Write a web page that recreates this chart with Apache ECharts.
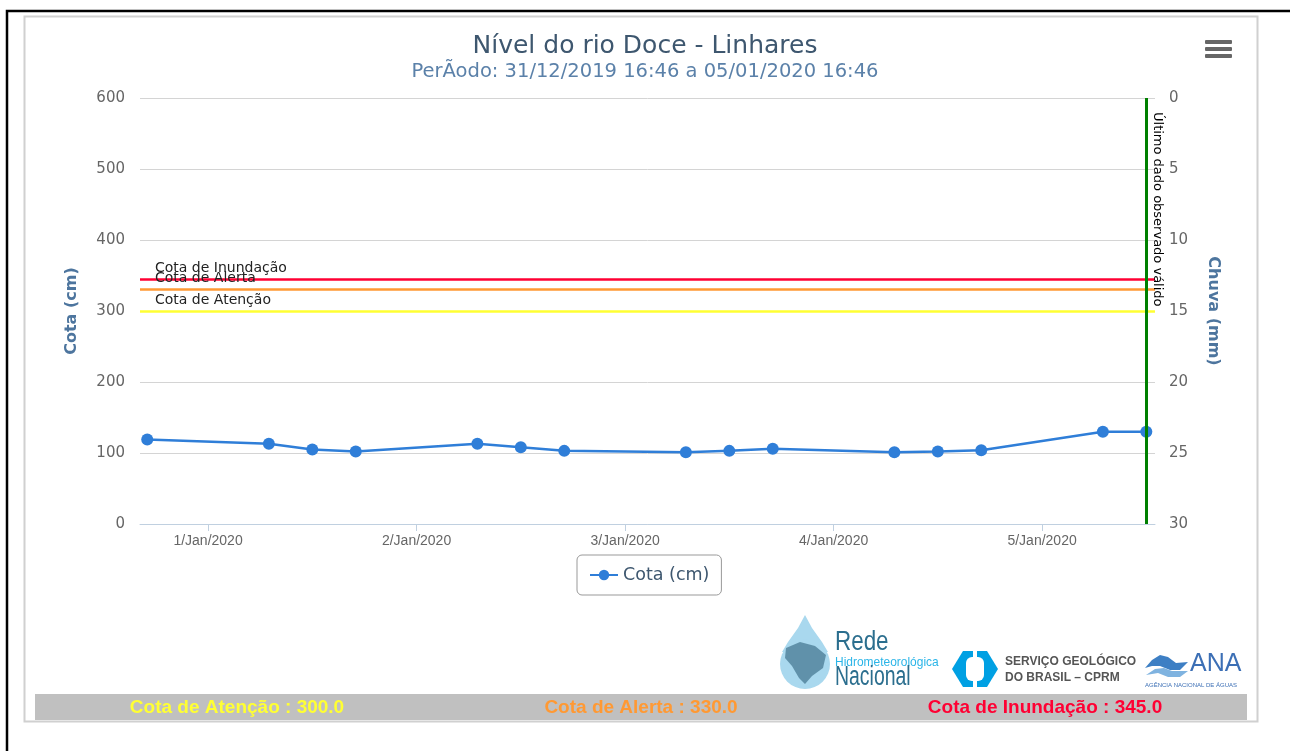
<!DOCTYPE html>
<html lang="pt-BR">
<head>
    <meta charset="UTF-8">
    <title>Nível do rio Doce - Linhares</title>
    <script src="https://cdn.jsdelivr.net/npm/echarts@6/dist/echarts.min.js"></script>
    <style>
        html, body { margin: 0; padding: 0; background: #fff; }
        #chart { width: 1290px; height: 751px; }
    </style>
</head>
<body>
<div id="chart"></div>
<script>
    // horarios das leituras e cota (cm)
    var horarios = ['2019-12-31 17:00', '2020-01-01 07:00', '2020-01-01 12:00', '2020-01-01 17:00',
        '2020-01-02 07:00', '2020-01-02 12:00', '2020-01-02 17:00', '2020-01-03 07:00',
        '2020-01-03 12:00', '2020-01-03 17:00', '2020-01-04 07:00', '2020-01-04 12:00',
        '2020-01-04 17:00', '2020-01-05 07:00', '2020-01-05 12:00'];
    var cota = [119, 113, 105, 102, 113, 108, 103, 101, 103, 106, 101, 102, 104, 130, 130];

    // limites dos eixos
    var inicioEixo = '2019-12-31 16:10';
    var fimEixo = '2020-01-05 13:00';
    var cotaEixo = [0, 600, 100];   // min, max, intervalo
    var chuvaEixo = [0, 30, 5];
    var meses = ['Jan', 'Feb', 'Mar', 'Apr', 'May', 'Jun', 'Jul', 'Aug', 'Sep', 'Oct', 'Nov', 'Dec'];

    // cotas de referencia
    var cotasNomes = ['Cota de Atenção', 'Cota de Alerta', 'Cota de Inundação'];
    var cotasValores = [300, 330, 345];
    var cotasCores = ['#ffff33', '#ff9933', '#ff0033'];

    function toTime(s) {
        return new Date(s.replace(' ', 'T') + ':00').getTime();
    }

    var dados = horarios.map(function (h, i) { return [toTime(h), cota[i]]; });
    var ultimo = toTime(horarios[horarios.length - 1]);

    // linhas de cota + ultimo dado
    var linhas = cotasValores.map(function (v, i) {
        return {
            yAxis: v,
            lineStyle: { color: cotasCores[i], width: 2.5, type: 'solid' },
            label: {
                show: true, position: 'insideStartTop', distance: [15, 4],
                formatter: function () { return cotasNomes[i]; },
                color: '#222', fontFamily: 'DejaVu Sans', fontSize: 14
            }
        };
    }).reverse();
    linhas.push([
        {
            coord: [ultimo, cotaEixo[1]],
            lineStyle: { color: '#008000', width: 3, type: 'solid' },
            label: {
                show: true, position: 'insideStartTop', distance: [14, 5],
                formatter: function () { return 'Último dado observado válido'; },
                color: '#000', fontFamily: 'DejaVu Sans', fontSize: 13
            }
        },
        { coord: [ultimo, cotaEixo[0]] }
    ]);

    // faixa inferior com as cotas
    var faixa = [{
        type: 'rect', silent: true,
        shape: { x: 35, y: 694, width: 1212, height: 26 },
        style: { fill: '#c0c0c0' }
    }];
    var faixaX = [237, 641, 1045];
    cotasNomes.forEach(function (n, i) {
        faixa.push({
            type: 'text', silent: true, x: faixaX[i], y: 708,
            style: {
                text: n + ' : ' + cotasValores[i].toFixed(1),
                fill: cotasCores[i], font: 'bold 19px "Liberation Sans", Arial',
                align: 'center', verticalAlign: 'middle'
            }
        });
    });

    var myChart = echarts.init(document.getElementById('chart'));
    var option = {
        backgroundColor: '#fff',
        animation: false,
        title: {
            text: 'Nível do rio Doce - Linhares',
            subtext: 'PerÃodo: 31/12/2019 16:46 a 05/01/2020 16:46',
            left: 'center',
            top: 29,
            itemGap: 3,
            textStyle: { fontFamily: 'DejaVu Sans', fontSize: 25, fontWeight: 'normal', color: '#3e576f' },
            subtextStyle: { fontFamily: 'DejaVu Sans', fontSize: 19.5, color: '#5b81a9' }
        },
        legend: {
            data: ['Cota (cm)'],
            left: 577,
            top: 555,
            padding: [11, 12],
            borderColor: '#999',
            borderWidth: 1,
            borderRadius: 5,
            itemWidth: 28,
            itemHeight: 13,
            textStyle: { fontFamily: 'DejaVu Sans', fontSize: 17.5, color: '#3e576f' }
        },
        grid: { left: 140, right: 135, top: 98, bottom: 227 },
        xAxis: {
            type: 'time',
            min: toTime(inicioEixo),
            max: toTime(fimEixo),
            minInterval: 24 * 3600 * 1000,
            maxInterval: 24 * 3600 * 1000,
            axisLine: { lineStyle: { color: '#c0d0e0', width: 1 } },
            axisTick: { show: true, length: 7, lineStyle: { color: '#c0d0e0' } },
            axisLabel: {
                color: '#666', fontFamily: 'Liberation Sans', fontSize: 14, margin: 10,
                showMinLabel: false, showMaxLabel: false,
                formatter: function (v) {
                    var d = new Date(v);
                    return d.getDate() + '/' + meses[d.getMonth()] + '/' + d.getFullYear();
                }
            },
            splitLine: { show: false }
        },
        yAxis: [{
            type: 'value',
            position: 'left',
            min: cotaEixo[0], max: cotaEixo[1], interval: cotaEixo[2],
            name: 'Cota (cm)',
            nameLocation: 'middle',
            nameGap: 60,
            nameTextStyle: { color: '#4d759e', fontWeight: 'bold', fontSize: 16, fontFamily: 'DejaVu Sans' },
            axisLine: { show: false },
            axisTick: { show: false },
            axisLabel: { color: '#666', fontSize: 15, margin: 15, fontFamily: 'DejaVu Sans' },
            splitLine: { lineStyle: { color: '#d4d4d4' } }
        }, {
            type: 'value',
            position: 'right',
            inverse: true,
            min: chuvaEixo[0], max: chuvaEixo[1], interval: chuvaEixo[2],
            name: 'Chuva (mm)',
            nameLocation: 'middle',
            nameRotate: -90,
            nameGap: 50,
            nameTextStyle: { color: '#4d759e', fontWeight: 'bold', fontSize: 16, fontFamily: 'DejaVu Sans' },
            axisLine: { show: false },
            axisTick: { show: false },
            axisLabel: { color: '#666', fontSize: 15, margin: 14, fontFamily: 'DejaVu Sans' },
            splitLine: { show: false }
        }],
        series: [{
            name: 'Cota (cm)',
            type: 'line',
            yAxisIndex: 0,
            data: dados,
            symbol: 'circle',
            symbolSize: 12,
            color: '#2f7ed8',
            lineStyle: { width: 2.5, color: '#2f7ed8' },
            z: 3,
            markLine: {
                silent: true,
                symbol: ['none', 'none'],
                animation: false,
                data: linhas
            }
        }],
        graphic: [
            // molduras
            {
                type: 'rect', silent: true, z: -1,
                shape: { x: 7, y: 11, width: 1300, height: 760 },
                style: { fill: 'none', stroke: '#000', lineWidth: 2.5 }
            },
            {
                type: 'rect', silent: true, z: -1,
                shape: { x: 24.5, y: 16.5, width: 1233, height: 705 },
                style: { fill: 'none', stroke: '#d0d0d0', lineWidth: 2 }
            },
            // menu
            { type: 'rect', silent: true, shape: { x: 1205, y: 40, width: 27, height: 4, r: 1 }, style: { fill: '#666' } },
            { type: 'rect', silent: true, shape: { x: 1205, y: 47, width: 27, height: 4, r: 1 }, style: { fill: '#666' } },
            { type: 'rect', silent: true, shape: { x: 1205, y: 54, width: 27, height: 4, r: 1 }, style: { fill: '#666' } },
            // logo Rede Hidrometeorologica Nacional
            {
                type: 'polygon', silent: true,
                shape: { points: [[805, 615], [812, 628], [822, 642], [828, 652], [782, 652], [788, 642], [798, 628]] },
                style: { fill: '#a9d8ee' }
            },
            {
                type: 'circle', silent: true,
                shape: { cx: 805, cy: 664, r: 25 },
                style: { fill: '#a9d8ee' }
            },
            {
                type: 'polygon', silent: true,
                shape: { points: [[786, 648], [800, 642], [815, 646], [826, 655], [823, 668], [812, 676], [805, 684], [799, 678], [792, 666], [785, 658]] },
                style: { fill: '#4d7f99', opacity: 0.8 }
            },
            {
                type: 'text', silent: true, x: 835, y: 642, scaleX: 0.8,
                style: { text: 'Rede', font: '28px "Liberation Sans"', fill: '#2b6e8e', verticalAlign: 'middle' }
            },
            {
                type: 'text', silent: true, x: 835, y: 662, scaleX: 0.92,
                style: { text: 'Hidrometeorológica', font: '13px "Liberation Sans"', fill: '#2bb5e8', verticalAlign: 'middle' }
            },
            {
                type: 'text', silent: true, x: 835, y: 678, scaleX: 0.72,
                style: { text: 'Nacional', font: '27px "Liberation Sans"', fill: '#2b6e8e', verticalAlign: 'middle' }
            },
            // logo CPRM
            {
                type: 'polygon', silent: true,
                shape: { points: [[963, 651], [987, 651], [998, 669], [987, 687], [963, 687], [952, 669]] },
                style: { fill: '#00a0e3' }
            },
            { type: 'rect', silent: true, shape: { x: 966, y: 657, width: 18, height: 24, r: 6 }, style: { fill: '#fff' } },
            { type: 'rect', silent: true, shape: { x: 973, y: 650, width: 4, height: 38 }, style: { fill: '#fff' } },
            {
                type: 'text', silent: true, x: 1005, y: 662,
                style: { text: 'SERVIÇO GEOLÓGICO', font: 'bold 12px "Liberation Sans"', fill: '#555', verticalAlign: 'middle' }
            },
            {
                type: 'text', silent: true, x: 1005, y: 678,
                style: { text: 'DO BRASIL – CPRM', font: 'bold 12px "Liberation Sans"', fill: '#555', verticalAlign: 'middle' }
            },
            // logo ANA
            {
                type: 'polygon', silent: true,
                shape: { points: [[1145, 668], [1152, 660], [1160, 655], [1168, 657], [1176, 663], [1188, 662], [1180, 670], [1170, 670], [1160, 666], [1152, 666]] },
                style: { fill: '#3d7fc4' }
            },
            {
                type: 'polygon', silent: true,
                shape: { points: [[1146, 675], [1155, 669], [1164, 668], [1172, 671], [1188, 671], [1180, 677], [1168, 677], [1158, 673]] },
                style: { fill: '#7fb3e0' }
            },
            {
                type: 'text', silent: true, x: 1190, y: 664,
                style: { text: 'ANA', font: '25px "Liberation Sans"', fill: '#3c6fb5', verticalAlign: 'middle' }
            },
            {
                type: 'text', silent: true, x: 1145, y: 685,
                style: { text: 'AGÊNCIA NACIONAL DE ÁGUAS', font: '6px "Liberation Sans"', fill: '#3c6fb5', verticalAlign: 'middle' }
            }
        ].concat(faixa)
    };
    myChart.setOption(option);
</script>
</body>
</html>
